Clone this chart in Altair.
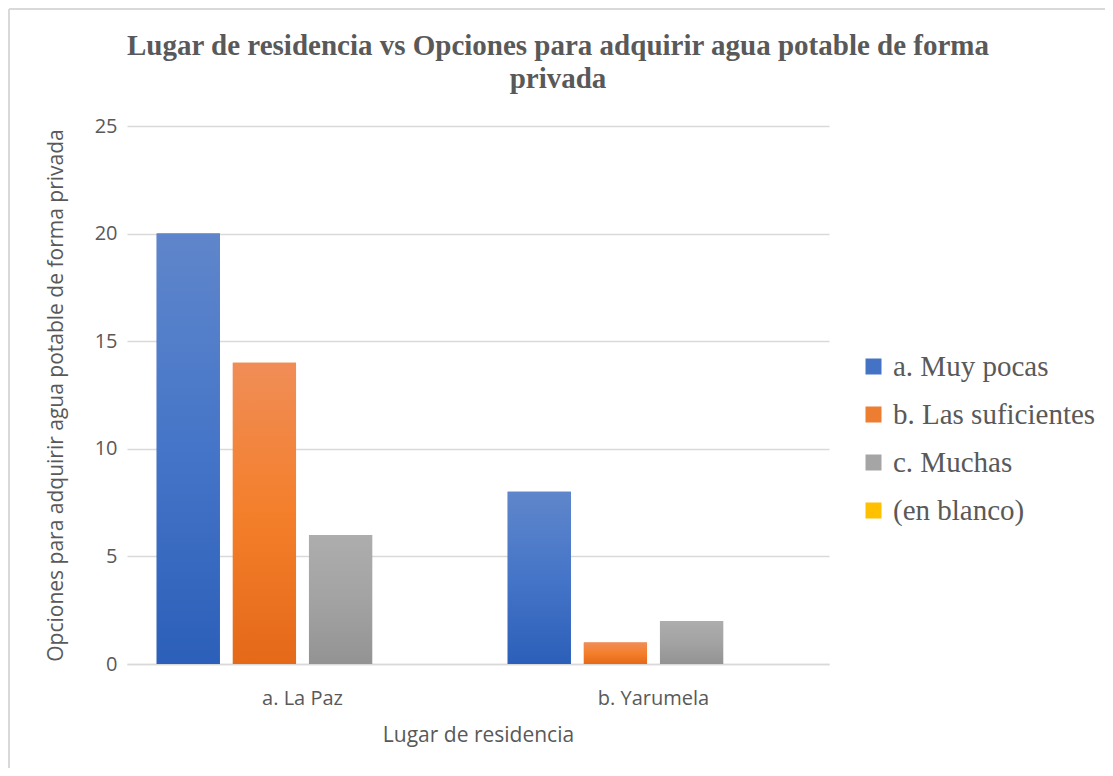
import altair as alt
import pandas as pd

places = ["a. La Paz", "b. Yarumela"]
series = ["a. Muy pocas", "b. Las suficientes", "c. Muchas", "(en blanco)"]
muy_pocas = [20, 8]
las_suficientes = [14, 1]
muchas = [6, 2]
en_blanco = [0, 0]

solid = ["#4472C4", "#ED7D31", "#A5A5A5", "#FFC000"]
grad_stops = {
    "a. Muy pocas": ["#5F86CB", "#4575C8", "#2C5FB9"],
    "b. Las suficientes": ["#F08D57", "#F47F2B", "#E46918"],
    "c. Muchas": ["#ADADAD", "#A3A3A3", "#939393"],
}

rows = []
for vals, s in zip([muy_pocas, las_suficientes, muchas, en_blanco], series):
    for p, v in zip(places, vals):
        rows.append({"place": p, "series": s, "value": v})
df = pd.DataFrame(rows)

FONT_SANS = "Open Sans"
FONT_SERIF = "Liberation Serif"
TXT = "#595959"

base = alt.Chart(df).transform_filter("datum.value > 0").encode(
    x=alt.X(
        "place:N",
        scale=alt.Scale(domain=places, paddingInner=0, paddingOuter=0),
        axis=alt.Axis(
            title="Lugar de residencia",
            labelAngle=0,
            ticks=False,
            grid=False,
            domain=True,
            domainColor="#D9D9D9",
            domainWidth=1.5,
            labelPadding=24,
            titlePadding=16,
            labelFont=FONT_SANS,
            labelFontSize=20,
            labelColor=TXT,
            titleFont=FONT_SANS,
            titleFontSize=21,
            titleFontWeight="normal",
            titleColor=TXT,
        ),
    ),
    xOffset=alt.XOffset(
        "series:N",
        scale=alt.Scale(domain=series, paddingInner=0.17, paddingOuter=0.39),
    ),
    y=alt.Y(
        "value:Q",
        scale=alt.Scale(domain=[0, 25]),
        axis=alt.Axis(
            title="Opciones para adquirir agua potable de forma privada",
            values=[0, 5, 10, 15, 20, 25],
            ticks=False,
            domain=False,
            gridColor="#D9D9D9",
            gridWidth=1.3,
            labelPadding=10,
            titlePadding=28,
            labelFont=FONT_SANS,
            labelFontSize=20,
            labelColor=TXT,
            titleFont=FONT_SANS,
            titleFontSize=21,
            titleFontWeight="normal",
            titleColor=TXT,
        ),
    ),
)

legend_layer = base.mark_bar().encode(
    color=alt.Color(
        "series:N",
        scale=alt.Scale(domain=series, range=solid),
        legend=alt.Legend(
            title=None,
            orient="none",
            legendX=732,
            legendY=226,
            symbolType="square",
            symbolSize=256,
            symbolStrokeWidth=0,
            labelFont=FONT_SERIF,
            labelFontSize=29,
            labelColor=TXT,
            labelOffset=5,
            rowPadding=18,
            labelLimit=400,
        ),
    )
)

layers = [legend_layer]
for s, cols in grad_stops.items():
    g = alt.Gradient(
        gradient="linear",
        stops=[
            alt.GradientStop(color=cols[0], offset=0),
            alt.GradientStop(color=cols[1], offset=0.5),
            alt.GradientStop(color=cols[2], offset=1),
        ],
        x1=0, x2=0, y1=0, y2=1,
    )
    layers.append(
        base.transform_filter(alt.datum.series == s).mark_bar(color=g)
    )

border_src = alt.Chart(pd.DataFrame({"k": [0]}))
top_line = border_src.mark_rule(color="#D9D9D9", strokeWidth=2).encode(
    x=alt.value(-118), x2=alt.value(1200), y=alt.value(-117)
)
left_line = border_src.mark_rule(color="#D9D9D9", strokeWidth=2).encode(
    x=alt.value(-118), y=alt.value(-117), y2=alt.value(900)
)
layers += [top_line, left_line]

chart = alt.layer(*layers).properties(
    width=702,
    height=538,
    title=alt.TitleParams(
        text=["Lugar de residencia vs Opciones para adquirir agua potable de forma", "privada"],
        font=FONT_SERIF,
        fontSize=29,
        fontWeight="bold",
        color=TXT,
        anchor="middle",
        frame="group",
        dx=80,
        offset=-86,
        lineHeight=33,
    ),
    autosize=alt.AutoSizeParams(type="none"),
    padding={"left": 119, "top": 118, "right": 276, "bottom": 104},
).configure(background="white").configure_view(stroke=None)

chart.save("out.html", embed_options={"renderer": "svg", "actions": False})
